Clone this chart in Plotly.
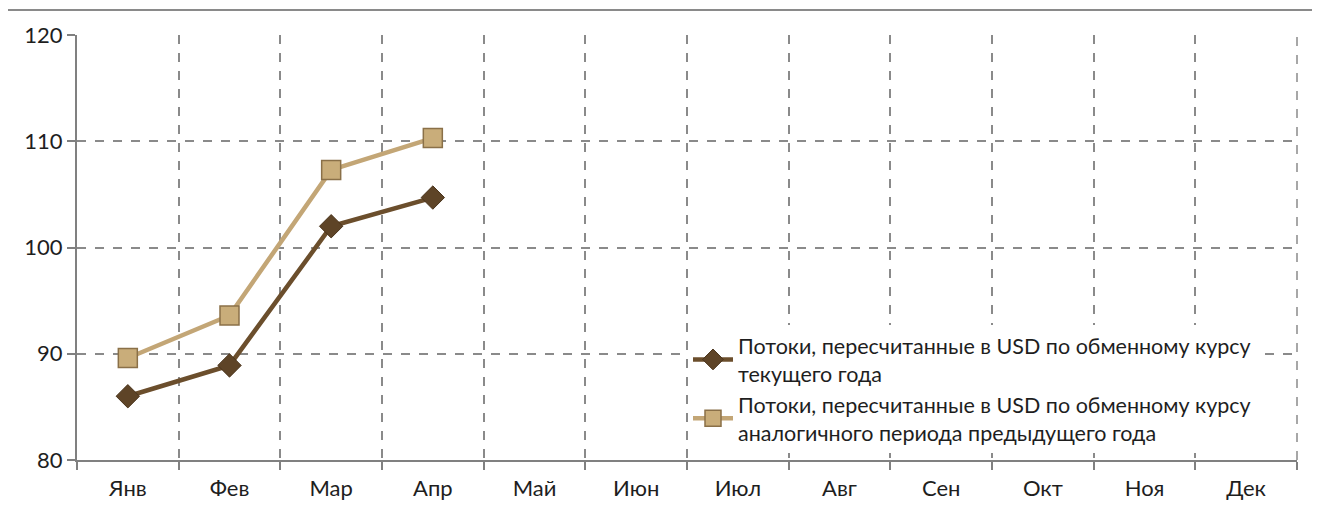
import plotly.graph_objects as go

months = ["Янв", "Фев", "Мар", "Апр", "Май", "Июн", "Июл", "Авг", "Сен", "Окт", "Ноя", "Дек"]
series_current = [86.0, 88.9, 102.0, 104.7]
series_prev = [89.6, 93.6, 107.3, 110.3]
name_current = "Потоки, пересчитанные в USD по обменному курсу<br>текущего года"
name_prev = "Потоки, пересчитанные в USD по обменному курсу<br>аналогичного периода предыдущего года"
y_ticks = [80, 90, 100, 110, 120]

# page body has an 8px margin, so figure coords = page coords - 8
W, H = 1312, 504
L, T = 69, 27
PW, PH = 1220, 425
R = W - L - PW
B = H - T - PH

fig = go.Figure()
fig.add_trace(go.Scatter(
    x=months[:len(series_current)], y=series_current, name=name_current,
    mode="lines+markers",
    line=dict(color="#6b4e2c", width=4.5),
    marker=dict(symbol="diamond", size=18, color="#5e4427", line=dict(color="#4a341c", width=1)),
))
fig.add_trace(go.Scatter(
    x=months[:len(series_prev)], y=series_prev, name=name_prev,
    mode="lines+markers",
    line=dict(color="#c3a676", width=4.5),
    marker=dict(symbol="square", size=19, color="#c9ad7a", line=dict(color="#8a7048", width=1.5)),
))

fig.update_layout(
    width=W, height=H,
    margin=dict(l=L, r=R, t=T, b=B),
    paper_bgcolor="white", plot_bgcolor="white",
    font=dict(family="Lato, Open Sans, sans-serif", size=21, color="#1e1e1e"),
    showlegend=True,
    legend=dict(
        x=(688 - 77) / PW, y=(460 - 325) / PH, xanchor="left", yanchor="top",
        bgcolor="white", font=dict(size=21.5, color="#1e1e1e"),
        tracegroupgap=0, itemwidth=40,
    ),
    xaxis=dict(
        type="category", categoryorder="array", categoryarray=months,
        range=[-0.5, 11.5], tickson="boundaries",
        showline=True, linecolor="#808080", linewidth=2,
        ticks="outside", ticklen=8, tickcolor="#808080", tickwidth=2,
        showgrid=True, gridcolor="#8a8a8a", griddash="dash", gridwidth=1.5,
        tickfont=dict(size=22, color="#1e1e1e"),
        ticklabelstandoff=8,
        fixedrange=True,
    ),
    yaxis=dict(
        range=[80, 120], tickvals=y_ticks,
        showline=True, linecolor="#808080", linewidth=2,
        ticks="outside", ticklen=8, tickcolor="#808080", tickwidth=2,
        showgrid=True, gridcolor="#8a8a8a", griddash="dash", gridwidth=1.5,
        tickfont=dict(size=22, color="#1e1e1e"),
        zeroline=False, fixedrange=True,
    ),
    shapes=[
        dict(type="rect", xref="paper", yref="paper",
             x0=(7 - 77) / PW, x1=(1330 - 77) / PW,
             y0=-0.3, y1=1 + (35 - 10) / PH,
             line=dict(color="#8a8a8a", width=2), layer="below"),
        dict(type="line", xref="paper", yref="paper",
             x0=1, x1=1, y0=0, y1=1,
             line=dict(color="#8a8a8a", width=1.5, dash="dash"), layer="below"),
    ],
)

fig.write_html("out.html")
